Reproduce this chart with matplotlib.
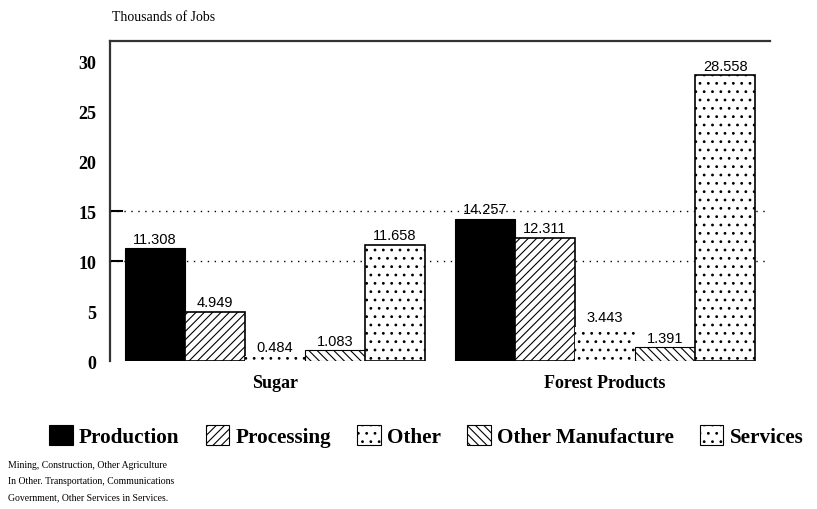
import matplotlib

matplotlib.use("Agg")
import matplotlib.pyplot as plt
import numpy as np
from matplotlib.patches import Patch

# data
groups = ["Sugar", "Forest Products"]
sectors = ["Production", "Processing", "Other", "Other Manufacture", "Services"]
sugar_jobs = [11.308, 4.949, 0.484, 1.083, 11.658]
forest_jobs = [14.257, 12.311, 3.443, 1.391, 28.558]
yticks = [0, 5, 10, 15, 20, 25, 30]
grid_levels = [10, 15]
footnote = [
    "Mining, Construction, Other Agriculture",
    "In Other. Transportation, Communications",
    "Government, Other Services in Services.",
]

styles = {
    "Production": dict(facecolor="black", hatch=None, linewidth=0.8),
    "Processing": dict(facecolor="white", hatch="////", linewidth=1.2),
    "Other": dict(facecolor="white", hatch="..", linewidth=0.0),
    "Other Manufacture": dict(facecolor="white", hatch="\\\\\\\\", linewidth=0.8),
    "Services": dict(facecolor="white", hatch="..", linewidth=1.2),
}

SERIF = "Liberation Serif"
SANS = "Liberation Sans"
plt.rcParams["hatch.linewidth"] = 0.8

fig = plt.figure(figsize=(8.17, 5.10), dpi=100)
ax = fig.add_axes([0.1346, 0.290, 0.808, 0.6275])

group_offset = 5.5
for g, values in enumerate([sugar_jobs, forest_jobs]):
    x = np.arange(len(sectors)) + g * group_offset
    for xi, sector, v in zip(x, sectors, values):
        st = styles[sector]
        ax.bar(xi, v, width=1.0, color=st["facecolor"], edgecolor="black",
               hatch=st["hatch"], linewidth=st["linewidth"], zorder=2)
        ax.text(xi, v + 0.25, f"{v:.3f}", ha="center", va="bottom",
                fontsize=10.5, family=SANS, zorder=3)
    ax.text(x.mean(), -1.3, groups[g], ha="center", va="top",
            fontsize=13, fontweight="bold", family=SERIF)

for lvl in grid_levels:
    ax.axhline(lvl, color="black", linestyle=(0, (1, 4)), linewidth=1.0, zorder=1)
    ax.plot([0, 0.018], [lvl, lvl], color="black", linewidth=1.5,
            transform=ax.get_yaxis_transform(), clip_on=False)

ax.set_xlim(-0.75, 10.25)
ax.set_ylim(0, 32)
ax.set_xticks([])
ax.set_yticks(yticks)
ax.tick_params(axis="y", length=0, pad=10)
for lab in ax.get_yticklabels():
    lab.set_fontfamily(SERIF)
    lab.set_fontweight("bold")
    lab.set_fontsize(13)

for side in ("right", "bottom"):
    ax.spines[side].set_visible(False)
for side in ("top", "left"):
    ax.spines[side].set_linewidth(1.6)
    ax.spines[side].set_color("#333333")

fig.text(0.137, 0.965, "Thousands of Jobs", fontsize=10, family=SERIF, va="center")

handles = [Patch(facecolor=styles[s]["facecolor"], edgecolor="black",
                 hatch=styles[s]["hatch"], linewidth=0.8) for s in sectors]
fig.legend(handles, sectors, loc="center", bbox_to_anchor=(0.522, 0.143), ncol=5,
           frameon=False, handlelength=1.1, handleheight=1.1, handletextpad=0.3,
           columnspacing=1.25, borderaxespad=0,
           prop=dict(family=SERIF, weight="bold", size=15.2))

for i, line in enumerate(footnote):
    fig.text(0.01, 0.088 - i * 0.032, line, fontsize=7, family=SERIF, va="center")

fig.savefig("out.png", dpi=100)
